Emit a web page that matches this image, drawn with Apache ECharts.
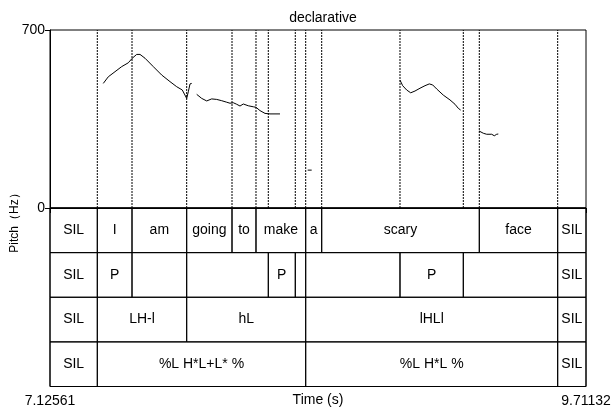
<!DOCTYPE html>
<html>
<head>
<meta charset="utf-8">
<script src="https://cdn.jsdelivr.net/npm/echarts@6/dist/echarts.min.js"></script>
<style>html,body{margin:0;padding:0;background:#fff;}#c{width:614px;height:407px;}</style>
</head>
<body>
<div id="c"></div>
<script>
var tMin = 7.12561, tMax = 9.71132;
var pitchTicks = [0, 700];

// Tier 1: words
var tier1Labels = ["SIL", "I", "am", "going", "to", "make", "a", "scary", "face", "SIL"];
var tier1Bounds = [7.12561, 7.3538, 7.5212, 7.7850, 8.0036, 8.1193, 8.3591, 8.4363, 9.1966, 9.5747, 9.71132];
// Tier 2: prominence
var tier2Labels = ["SIL", "P", "", "", "P", "", "", "P", "", "SIL"];
var tier2Bounds = [7.12561, 7.3538, 7.5212, 7.7850, 8.1787, 8.3089, 8.3591, 8.8140, 9.1194, 9.5747, 9.71132];
// Tier 3
var tier3Labels = ["SIL", "LH-l", "hL", "lHLl", "SIL"];
var tier3Bounds = [7.12561, 7.3538, 7.7850, 8.3591, 9.5747, 9.71132];
// Tier 4
var tier4Labels = ["SIL", "%L H*L+L* %", "%L H*L %", "SIL"];
var tier4Bounds = [7.12561, 7.3538, 8.3591, 9.5747, 9.71132];

// Pitch segments (time s, Hz)
var seg1T = [7.3827, 7.4068, 7.4392, 7.4715, 7.5033, 7.5226, 7.5438, 7.5598, 7.5839, 7.6239, 7.6644, 7.7045, 7.7368, 7.7638, 7.7850, 7.7928, 7.8010, 7.8092];
var seg1F = [490, 516, 536, 556, 571, 589, 604, 604, 589, 556, 523, 497, 477, 464, 431, 457, 488, 490];
var seg2T = [7.8333, 7.8574, 7.8815, 7.9056, 7.9298, 7.9539, 7.9780, 7.9939, 8.0098, 8.0262, 8.0422, 8.0581, 8.0822, 8.1063, 8.1193, 8.1386, 8.1628, 8.1869, 8.2351];
var seg2F = [447, 431, 421, 429, 427, 422, 416, 412, 414, 408, 401, 409, 402, 398, 396, 383, 372, 370, 370];
var seg3T = [8.3687, 8.3880];
var seg3F = [149, 149];
var seg4T = [8.8140, 8.8270, 8.8463, 8.8656, 8.8864, 8.9105, 8.9346, 8.9553, 8.9717, 8.9911, 9.0229, 9.0552, 9.0793, 9.0952, 9.1068];
var seg4F = [503, 481, 464, 453, 460, 471, 481, 488, 484, 468, 444, 425, 408, 392, 385];
var seg5T = [9.1951, 9.2158, 9.2322, 9.2564, 9.2689, 9.2805, 9.2882];
var seg5F = [303, 294, 290, 290, 284, 290, 291];

var FONT = "'Liberation Sans', Arial, sans-serif";

function zip(a, b) { return a.map(function (v, i) { return [v, b[i]]; }); }

var tiers = [[tier1Labels, tier1Bounds], [tier2Labels, tier2Bounds], [tier3Labels, tier3Bounds], [tier4Labels, tier4Bounds]];
var intervals = [];
var boundarySet = {};
tiers.forEach(function (tr, ti) {
  var labels = tr[0], b = tr[1];
  for (var i = 0; i < labels.length; i++) {
    intervals.push({ value: [b[i], b[i + 1], ti], label: labels[i] });
  }
  for (var j = 1; j < b.length - 1; j++) boundarySet[b[j].toFixed(4)] = b[j];
});
var boundaries = Object.keys(boundarySet).map(function (k) { return [boundarySet[k]]; });

var segs = [zip(seg1T, seg1F), zip(seg2T, seg2F), zip(seg3T, seg3F), zip(seg4T, seg4F), zip(seg5T, seg5F)];

var chart = echarts.init(document.getElementById('c'), null, { renderer: 'canvas' });

var series = [];
segs.forEach(function (s) {
  series.push({
    type: 'line', xAxisIndex: 0, yAxisIndex: 0, data: s, showSymbol: false, symbol: 'none',
    lineStyle: { color: '#000', width: 1 }, animation: false, silent: true
  });
});
series.push({
  type: 'custom', xAxisIndex: 0, yAxisIndex: 0, data: boundaries, animation: false, silent: true,
  renderItem: function (params, api) {
    var t = api.value(0);
    var p0 = api.coord([t, 0]);
    var p1 = api.coord([t, 700]);
    return {
      type: 'line',
      shape: { x1: p0[0], y1: p0[1], x2: p1[0], y2: p1[1] },
      style: { stroke: '#000', lineWidth: 1, lineDash: [2, 1] }
    };
  }
});
series.push({
  type: 'custom', xAxisIndex: 1, yAxisIndex: 1, data: intervals.map(function (d) { return d.value; }),
  animation: false, silent: true,
  renderItem: function (params, api) {
    var s = api.value(0), e = api.value(1), r = api.value(2);
    var p0 = api.coord([s, r]);
    var p1 = api.coord([e, r + 1]);
    var label = intervals[params.dataIndex].label;
    var children = [{
      type: 'rect',
      shape: { x: p0[0], y: Math.min(p0[1], p1[1]), width: p1[0] - p0[0], height: Math.abs(p1[1] - p0[1]) },
      style: { fill: 'none', stroke: '#000', lineWidth: 1 }
    }];
    if (label) {
      children.push({
        type: 'text',
        style: {
          text: label, x: (p0[0] + p1[0]) / 2, y: (p0[1] + p1[1]) / 2,
          align: 'center', verticalAlign: 'middle',
          fontSize: 14, fontFamily: FONT, fill: '#000'
        }
      });
    }
    return { type: 'group', children: children };
  }
});

chart.setOption({
  animation: false,
  backgroundColor: '#fff',
  title: {
    text: 'declarative', left: 318, top: 6, textAlign: 'center',
    textStyle: { fontSize: 14, fontWeight: 'normal', color: '#000', fontFamily: FONT }
  },
  grid: [
    { left: 50, top: 30, width: 536, height: 178, show: true, borderColor: '#000', borderWidth: 1, backgroundColor: 'transparent', containLabel: false, outerBoundsMode: 'none' },
    { left: 50, top: 208, width: 536, height: 178.5, show: true, borderColor: '#000', borderWidth: 1, backgroundColor: 'transparent', containLabel: false, outerBoundsMode: 'none' }
  ],
  xAxis: [
    { type: 'value', gridIndex: 0, min: tMin, max: tMax, show: false },
    {
      type: 'value', gridIndex: 1, min: tMin, max: tMax, interval: tMax - tMin,
      axisLine: { show: true, lineStyle: { color: '#000', width: 1 } },
      axisTick: { show: true, length: 5, inside: false, lineStyle: { color: '#000' } },
      splitLine: { show: false },
      axisLabel: {
        show: true, showMinLabel: true, showMaxLabel: true, margin: 8,
        fontSize: 14, fontFamily: FONT, color: '#000',
        formatter: function (v) { return Number(v).toFixed(5); }
      },
      name: 'Time (s)', nameLocation: 'middle', nameGap: 14, nameMoveOverlap: false,
      nameTextStyle: { fontSize: 14, fontFamily: FONT, color: '#000', verticalAlign: 'middle' }
    }
  ],
  yAxis: [
    {
      type: 'value', gridIndex: 0, min: pitchTicks[0], max: pitchTicks[1], interval: pitchTicks[1] - pitchTicks[0],
      axisLine: { show: true, lineStyle: { color: '#000', width: 1 } },
      axisTick: { show: true, length: 5, inside: false, lineStyle: { color: '#000' } },
      splitLine: { show: false },
      axisLabel: { show: true, margin: 5, fontSize: 14, fontFamily: FONT, color: '#000' }
    },
    { type: 'value', gridIndex: 1, min: 0, max: 4, inverse: true, show: false }
  ],
  graphic: [
    {
      type: 'text', x: 15, y: 220, rotation: Math.PI / 2,
      style: { text: 'Pitch（Hz）', align: 'center', verticalAlign: 'middle', fontSize: 12, fontFamily: FONT, fill: '#000' }
    }
  ],
  series: series
});
</script>
</body>
</html>
